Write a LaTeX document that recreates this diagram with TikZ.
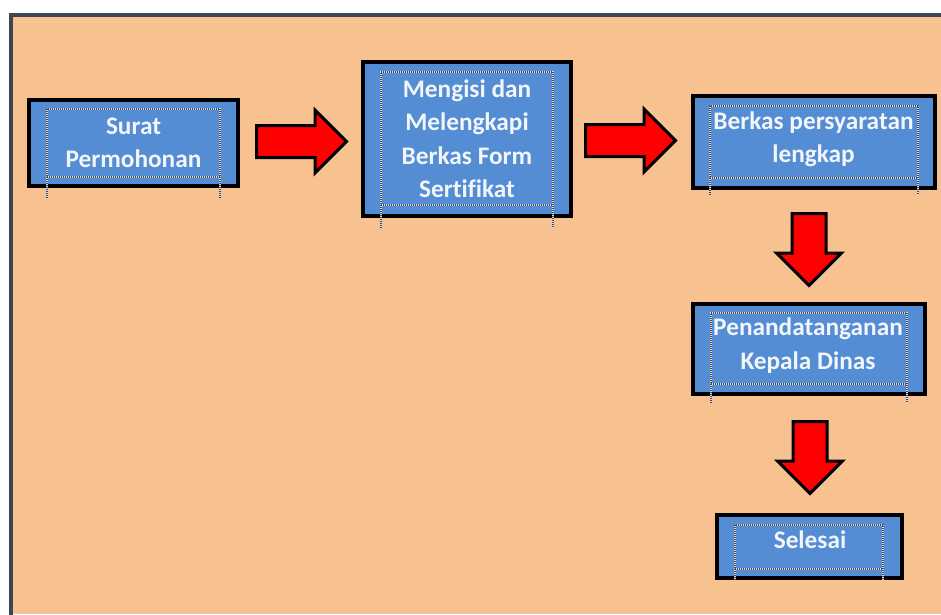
\documentclass[tikz,border=0pt]{standalone}
\usepackage{fontspec}
\setmainfont{Carlito}[Ligatures=NoCommon]
\usetikzlibrary{shapes.arrows,calc}
\definecolor{peach}{HTML}{F8C190}
\definecolor{edgeblue}{HTML}{3B4657}
\definecolor{boxblue}{HTML}{548DD4}
\definecolor{txtwhite}{HTML}{F2F5FA}
\definecolor{dotdark}{HTML}{3E4656}
\definecolor{dotlight}{HTML}{D8DEE8}
\begin{document}
\begin{tikzpicture}[x=1pt,y=-1pt,
  box/.style={draw=black, line width=4pt, fill=boxblue, inner sep=0pt},
  txt/.style={text=txtwhite, font=\bfseries\fontsize{25.3}{33.5}\selectfont, align=center, inner sep=0pt},
  tframe/.style={draw=dotdark, line width=1.2pt, dash pattern=on 1pt off 1pt,
    preaction={draw=dotlight, line width=1.2pt, solid}},
  rarrow/.style={single arrow, draw=black, fill=red, line width=3pt, inner sep=0pt, inner ysep=14.5pt, single arrow head extend=15.5pt, minimum height=90pt, anchor=tail},
  darrow/.style={rarrow, rotate=-90, inner ysep=15.5pt, minimum height=72pt}]
\useasboundingbox (0,0) rectangle (941,614);
\fill[white] (0,0) rectangle (941,614);
\fill[peach] (10,15) rectangle (941,614);
\draw[edgeblue, line width=4pt] (10.5,616) -- (10.5,15) -- (943,15);
% boxes
\node[box, minimum width=209pt, minimum height=86pt] (b1) at (133.5,143) {};
\node[box, minimum width=208pt, minimum height=154pt] (b2) at (467,139) {};
\node[box, minimum width=242pt, minimum height=92pt] (b3) at (814,142) {};
\node[box, minimum width=232pt, minimum height=90pt] (b4) at (809,349) {};
\node[box, minimum width=185pt, minimum height=63pt] (b5) at (809.5,546.5) {};
% text-box frames
\draw[tframe] (47,198) -- (47,109) -- (220,109) -- (220,198) (47,177) -- (220,177);
\draw[tframe] (381,228) -- (381,72) -- (553,72) -- (553,228) (381,205) -- (553,205);
\draw[tframe] (710,195) -- (710,106) -- (918,106) -- (918,195) (710,178) -- (918,178);
\draw[tframe] (711,403) -- (711,313) -- (907,313) -- (907,403) (711,384) -- (907,384);
\draw[tframe] (735,580) -- (735,525) -- (883,525) -- (883,580) (735,569) -- (883,569);
% texts
\node[txt] (t1) at (133.5,143) {Surat\\Permohonan};
\node[txt] (t2) at (467,138.5) {Mengisi dan\\Melengkapi\\Berkas Form\\Sertifikat};
\node[txt] (t3) at (813.5,139.5) {Berkas persyaratan\\lengkap};
\node[txt] (t4) at (808,345.5) {Penandatanganan\\Kepala Dinas};
\node[txt] (t5) at (810,540) {Selesai};
% block arrows
\node[rarrow] (a1) at ($(b1.east)+(15,-1.5)$) {};
\node[rarrow] (a2) at ($(b2.east)+(11,1.5)$) {};
\node[darrow] (a3) at ($(b4.north |- b3.south)+(0,22)$) {};
\node[darrow] (a4) at ($(b4.south)+(1,24)$) {};
\end{tikzpicture}
\end{document}
